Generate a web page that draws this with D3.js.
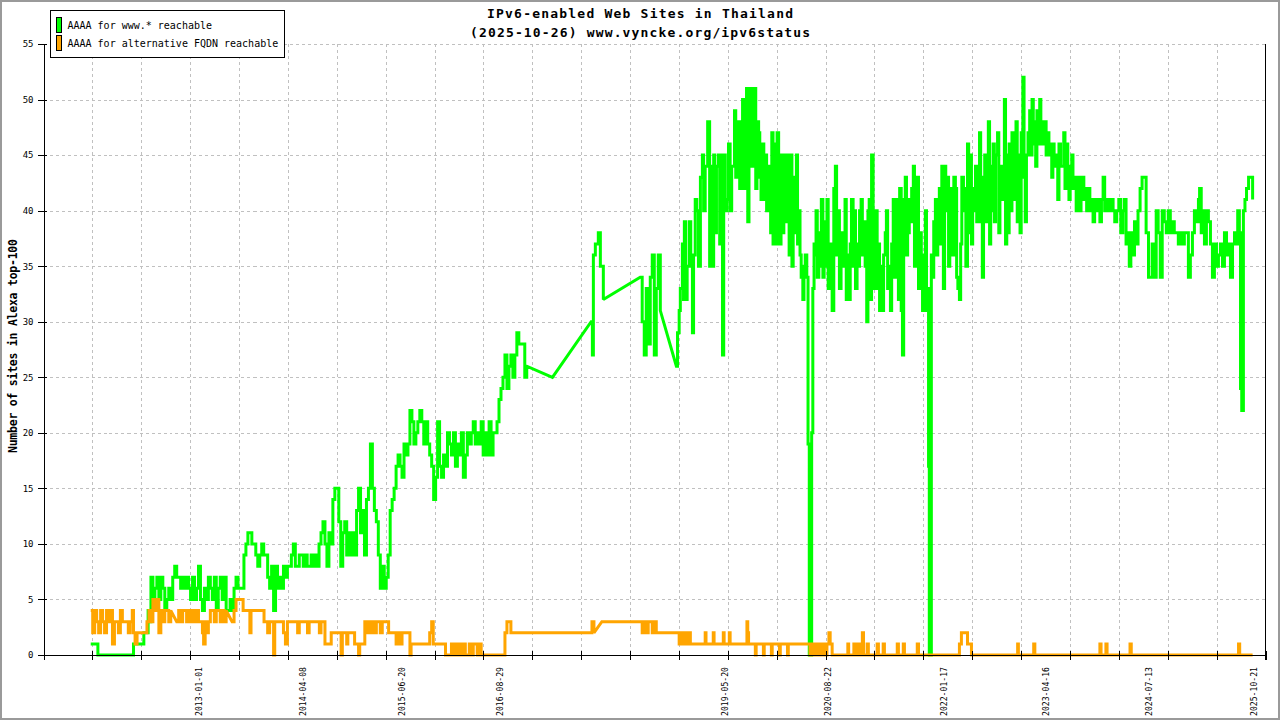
<!DOCTYPE html>
<html><head><meta charset="utf-8">
<script src="https://cdn.jsdelivr.net/npm/d3@7"></script>
<style>html,body{margin:0;padding:0;background:#fff;} svg{display:block;}</style>
</head><body>
<svg id="chart" width="1280" height="720"></svg>
<script>
const titleLines = ["IPv6-enabled Web Sites in Thailand", "(2025-10-26) www.vyncke.org/ipv6status"];
const yAxisTitle = "Number of sites in Alexa top-100";
const seriesNames = ["AAAA for www.* reachable", "AAAA for alternative FQDN reachable"];
const seriesColors = ["#00ff00", "#ffa500"];
const yTicks = [0,5,10,15,20,25,30,35,40,45,50,55];
const xLabelDates = ["2013-01-01","2014-04-08","2015-06-20","2016-08-29","2019-05-20","2020-08-22","2022-01-17","2023-04-16","2024-07-13","2025-10-21"];
const xDomainYears = [2011.1214, 2025.9515];
const xTickCount = 25;

// [decimal year, sites]
const wwwReachable = [
[2011.695,1],[2011.767,1],[2011.782,0],[2012.199,0],[2012.214,1],[2012.329,1],[2012.339,2],[2012.377,2],[2012.391,4],[2012.415,3],
[2012.425,7],[2012.449,5],[2012.473,6],[2012.497,7],[2012.521,5],[2012.545,7],[2012.569,6],[2012.593,4],[2012.617,5],[2012.641,6],
[2012.665,5],[2012.689,7],[2012.713,8],[2012.737,7],[2012.761,7],[2012.785,6],[2012.809,7],[2012.833,6],[2012.857,7],[2012.881,6],
[2012.905,5],[2012.929,7],[2012.953,5],[2012.977,6],[2013.001,8],[2013.025,5],[2013.049,4],[2013.073,6],[2013.097,5],[2013.121,7],
[2013.145,6],[2013.169,5],[2013.193,7],[2013.217,4],[2013.241,6],[2013.265,7],[2013.289,5],[2013.313,7],[2013.337,4],[2013.361,4],
[2013.385,5],[2013.409,4],[2013.433,6],[2013.457,7],[2013.481,6],[2013.505,6],[2013.529,6],[2013.553,9],[2013.577,10],[2013.601,11],
[2013.625,11],[2013.649,10],[2013.673,10],[2013.697,9],[2013.721,8],[2013.745,9],[2013.769,10],[2013.793,9],[2013.817,9],[2013.841,7],
[2013.865,6],[2013.889,8],[2013.913,4],[2013.937,8],[2013.961,6],[2013.985,7],[2014.009,6],[2014.033,8],[2014.057,7],[2014.081,8],
[2014.105,8],[2014.129,9],[2014.153,10],[2014.177,8],[2014.201,8],[2014.225,9],[2014.249,9],[2014.273,8],[2014.297,9],[2014.321,8],
[2014.345,8],[2014.369,9],[2014.393,8],[2014.417,9],[2014.441,8],[2014.465,10],[2014.489,11],[2014.513,12],[2014.537,10],[2014.561,8],
[2014.585,11],[2014.609,10],[2014.633,14],[2014.657,15],[2014.681,15],[2014.705,12],[2014.729,8],[2014.753,11],[2014.777,12],[2014.801,9],
[2014.825,11],[2014.849,9],[2014.873,11],[2014.897,9],[2014.921,13],[2014.945,15],[2014.969,11],[2014.993,13],[2015.017,9],[2015.041,14],
[2015.065,15],[2015.089,19],[2015.113,15],[2015.137,13],[2015.161,12],[2015.185,9],[2015.209,6],[2015.233,8],[2015.257,6],[2015.281,7],
[2015.305,9],[2015.329,13],[2015.353,14],[2015.377,15],[2015.401,17],[2015.425,18],[2015.449,17],[2015.473,16],[2015.497,19],[2015.521,18],
[2015.545,19],[2015.569,22],[2015.593,21],[2015.617,19],[2015.641,20],[2015.665,21],[2015.689,22],[2015.713,21],[2015.737,19],[2015.761,21],
[2015.785,19],[2015.809,18],[2015.833,17],[2015.857,14],[2015.881,16],[2015.905,21],[2015.929,17],[2015.953,16],[2015.977,18],[2016.001,17],
[2016.025,20],[2016.049,19],[2016.073,18],[2016.097,20],[2016.121,17],[2016.145,19],[2016.169,18],[2016.193,20],[2016.217,16],[2016.241,18],
[2016.265,20],[2016.289,19],[2016.313,20],[2016.337,21],[2016.361,19],[2016.385,20],[2016.409,19],[2016.433,21],[2016.457,18],[2016.481,20],
[2016.505,18],[2016.529,21],[2016.553,18],[2016.577,20],[2016.601,20],[2016.625,21],[2016.649,23],[2016.673,24],[2016.697,25],[2016.721,27],
[2016.745,24],[2016.769,26],[2016.793,27],[2016.817,25],[2016.841,27],[2016.865,29],[2016.889,28],[2016.913,28],[2016.937,28],[2016.961,25],
[2016.985,26],[2017.297,25],[2017.767,30],[2017.782,27],[2017.794,36],[2017.818,37],[2017.854,38],[2017.879,35],[2017.915,32],[2018.363,34],
[2018.387,30],[2018.412,27],[2018.436,33],[2018.460,28],[2018.485,34],[2018.509,36],[2018.534,27],[2018.558,33],[2018.582,36],[2018.607,31],
[2018.802,26],[2018.816,29],[2018.836,31],[2018.850,33],[2018.875,37],[2018.889,32],[2018.899,39],[2018.914,32],[2018.933,35],[2018.958,39],
[2018.977,35],[2018.997,29],[2019.011,36],[2019.031,41],[2019.050,40],[2019.070,35],[2019.094,43],[2019.118,45],[2019.133,40],[2019.152,44],
[2019.182,48],[2019.206,35],[2019.221,44],[2019.235,35],[2019.255,45],[2019.269,38],[2019.289,44],[2019.313,45],[2019.328,37],[2019.342,45],
[2019.362,27],[2019.377,45],[2019.396,40],[2019.416,41],[2019.435,46],[2019.455,40],[2019.474,44],[2019.508,49],[2019.523,43],[2019.537,48],
[2019.557,46],[2019.571,42],[2019.586,48],[2019.606,50],[2019.620,42],[2019.635,48],[2019.654,51],[2019.669,39],[2019.684,50],[2019.703,51],
[2019.718,44],[2019.732,48],[2019.752,51],[2019.766,42],[2019.781,48],[2019.801,47],[2019.815,43],[2019.830,41],[2019.849,46],[2019.864,41],
[2019.879,45],[2019.898,40],[2019.913,44],[2019.927,42],[2019.947,38],[2019.961,47],[2019.976,37],[2019.995,46],[2020.010,37],[2020.025,47],
[2020.044,44],[2020.059,37],[2020.073,45],[2020.093,38],[2020.107,45],[2020.122,39],[2020.142,40],[2020.156,45],[2020.171,36],[2020.190,45],
[2020.205,35],[2020.220,43],[2020.239,38],[2020.259,45],[2020.273,37],[2020.288,40],[2020.303,36],[2020.317,34],[2020.337,32],[2020.351,35],
[2020.366,36],[2020.385,34],[2020.400,19],[2020.415,0],[2020.429,0],[2020.444,20],[2020.458,33],[2020.473,37],[2020.483,36],[2020.497,40],
[2020.512,34],[2020.531,38],[2020.546,35],[2020.561,41],[2020.580,34],[2020.595,39],[2020.609,35],[2020.629,41],[2020.644,33],[2020.658,37],
[2020.678,36],[2020.692,31],[2020.712,42],[2020.731,44],[2020.746,36],[2020.761,40],[2020.780,33],[2020.800,38],[2020.814,35],[2020.834,36],
[2020.848,41],[2020.863,32],[2020.882,36],[2020.897,32],[2020.911,37],[2020.926,41],[2020.946,35],[2020.960,40],[2020.975,33],[2020.994,37],
[2021.009,35],[2021.024,40],[2021.043,41],[2021.058,36],[2021.072,39],[2021.092,35],[2021.111,30],[2021.126,40],[2021.141,41],[2021.155,32],
[2021.170,45],[2021.189,38],[2021.204,33],[2021.219,40],[2021.238,33],[2021.253,37],[2021.267,31],[2021.287,35],[2021.301,31],[2021.316,36],
[2021.336,38],[2021.350,40],[2021.365,33],[2021.384,35],[2021.399,31],[2021.414,37],[2021.433,41],[2021.448,34],[2021.462,39],[2021.482,41],
[2021.496,32],[2021.511,42],[2021.530,31],[2021.545,27],[2021.560,41],[2021.579,43],[2021.594,36],[2021.608,38],[2021.628,41],[2021.643,39],
[2021.657,42],[2021.677,44],[2021.691,35],[2021.706,36],[2021.725,43],[2021.740,33],[2021.755,38],[2021.774,36],[2021.789,31],[2021.803,34],
[2021.823,40],[2021.837,31],[2021.852,33],[2021.862,17],[2021.871,0],[2021.886,0],[2021.896,36],[2021.911,34],[2021.925,39],[2021.945,41],
[2021.959,36],[2021.974,40],[2021.993,42],[2022.008,37],[2022.023,44],[2022.042,33],[2022.057,44],[2022.071,40],[2022.091,43],[2022.105,35],
[2022.120,41],[2022.140,42],[2022.154,36],[2022.169,43],[2022.188,42],[2022.203,34],[2022.218,33],[2022.237,32],[2022.252,37],[2022.266,43],
[2022.286,40],[2022.300,42],[2022.315,35],[2022.335,46],[2022.349,38],[2022.364,45],[2022.383,37],[2022.398,42],[2022.412,40],[2022.432,44],
[2022.447,39],[2022.481,47],[2022.495,40],[2022.515,34],[2022.530,43],[2022.544,45],[2022.563,39],[2022.588,48],[2022.603,37],[2022.617,44],
[2022.632,40],[2022.646,46],[2022.661,39],[2022.676,45],[2022.700,47],[2022.715,38],[2022.729,44],[2022.749,41],[2022.768,44],[2022.783,50],
[2022.797,37],[2022.812,45],[2022.827,38],[2022.841,46],[2022.856,40],[2022.875,47],[2022.890,41],[2022.905,45],[2022.924,48],[2022.939,39],
[2022.953,45],[2022.973,38],[2022.987,47],[2023.007,52],[2023.022,43],[2023.036,39],[2023.051,45],[2023.070,47],[2023.090,49],[2023.105,45],
[2023.119,50],[2023.134,46],[2023.148,48],[2023.163,44],[2023.178,49],[2023.192,46],[2023.212,50],[2023.226,46],[2023.241,48],[2023.260,46],
[2023.275,48],[2023.290,45],[2023.309,47],[2023.324,45],[2023.338,46],[2023.358,43],[2023.372,46],[2023.387,44],[2023.407,45],[2023.431,41],
[2023.446,46],[2023.465,44],[2023.504,47],[2023.519,42],[2023.538,46],[2023.553,43],[2023.567,41],[2023.582,44],[2023.601,45],[2023.616,42],
[2023.636,43],[2023.655,40],[2023.670,41],[2023.684,43],[2023.699,40],[2023.714,42],[2023.733,43],[2023.748,41],[2023.762,42],[2023.782,40],
[2023.801,42],[2023.821,40],[2023.840,41],[2023.860,39],[2023.879,41],[2023.904,40],[2023.923,41],[2023.943,39],[2023.962,41],[2023.982,43],
[2024.001,40],[2024.025,41],[2024.050,40],[2024.074,41],[2024.103,40],[2024.123,39],[2024.147,40],[2024.172,41],[2024.196,38],[2024.221,40],
[2024.240,41],[2024.260,37],[2024.284,38],[2024.299,35],[2024.318,38],[2024.338,36],[2024.362,39],[2024.381,37],[2024.405,40],[2024.430,42],
[2024.454,43],[2024.479,43],[2024.503,38],[2024.532,34],[2024.552,34],[2024.576,37],[2024.601,34],[2024.625,40],[2024.649,38],[2024.674,34],
[2024.698,40],[2024.723,39],[2024.747,38],[2024.771,40],[2024.796,38],[2024.820,39],[2024.844,38],[2024.869,38],[2024.893,37],[2024.918,38],
[2024.942,37],[2024.966,38],[2024.991,38],[2025.015,34],[2025.039,36],[2025.064,38],[2025.088,40],[2025.112,39],[2025.137,41],[2025.151,42],
[2025.171,38],[2025.185,40],[2025.210,37],[2025.234,40],[2025.258,39],[2025.283,37],[2025.307,34],[2025.331,37],[2025.356,35],[2025.380,36],
[2025.404,37],[2025.429,35],[2025.453,38],[2025.478,36],[2025.502,37],[2025.526,34],[2025.551,37],[2025.575,38],[2025.599,37],[2025.614,40],
[2025.634,38],[2025.648,24],[2025.663,22],[2025.683,40],[2025.702,41],[2025.721,42],[2025.746,43],[2025.770,43],[2025.795,41]
];

const altReachable = [
[2011.695,4],[2011.719,2],[2011.743,4],[2011.767,3],[2011.791,2],[2011.815,4],[2011.839,3],[2011.863,2],[2011.887,4],[2011.911,3],
[2011.935,4],[2011.959,1],[2011.983,3],[2012.031,2],[2012.055,4],[2012.079,3],[2012.127,3],[2012.151,2],[2012.175,3],[2012.199,4],
[2012.214,2],[2012.233,1],[2012.257,2],[2012.353,2],[2012.377,3],[2012.401,4],[2012.425,3],[2012.449,5],[2012.473,4],[2012.497,5],
[2012.521,2],[2012.545,4],[2012.569,3],[2012.593,4],[2012.641,3],[2012.665,4],[2012.737,3],[2012.761,4],[2012.785,3],[2012.809,4],
[2012.857,3],[2012.881,4],[2012.905,3],[2012.929,4],[2012.953,3],[2012.977,4],[2013.001,3],[2013.049,2],[2013.063,1],[2013.082,3],
[2013.097,2],[2013.121,3],[2013.145,4],[2013.193,3],[2013.217,4],[2013.265,3],[2013.289,4],[2013.313,3],[2013.337,4],[2013.409,3],
[2013.433,4],[2013.457,5],[2013.529,5],[2013.543,4],[2013.615,4],[2013.625,2],[2013.639,4],[2013.783,4],[2013.797,3],[2013.841,2],
[2013.865,3],[2013.903,3],[2013.913,0],[2013.927,3],[2014.019,3],[2014.033,2],[2014.057,1],[2014.081,3],[2014.191,3],[2014.205,2],
[2014.225,3],[2014.311,3],[2014.325,2],[2014.345,3],[2014.455,3],[2014.469,2],[2014.489,3],[2014.523,3],[2014.537,1],[2014.599,1],
[2014.613,2],[2014.719,2],[2014.733,0],[2014.748,2],[2014.787,2],[2014.801,1],[2014.815,2],[2014.883,2],[2014.897,1],[2014.931,1],
[2014.945,0],[2014.959,1],[2015.007,1],[2015.021,3],[2015.041,2],[2015.065,3],[2015.089,2],[2015.113,3],[2015.137,2],[2015.161,3],
[2015.209,2],[2015.233,3],[2015.295,3],[2015.310,2],[2015.391,2],[2015.401,1],[2015.425,2],[2015.449,1],[2015.473,2],[2015.555,2],
[2015.569,0],[2015.583,1],[2015.785,1],[2015.809,2],[2015.833,3],[2015.852,1],[2015.987,1],[2016.001,0],[2016.063,0],[2016.073,1],
[2016.097,0],[2016.121,1],[2016.145,0],[2016.169,1],[2016.193,0],[2016.217,1],[2016.241,0],[2016.289,1],[2016.313,0],[2016.337,1],
[2016.361,1],[2016.385,0],[2016.409,1],[2016.433,0],[2016.697,0],[2016.721,2],[2016.745,3],[2016.779,3],[2016.793,2],[2017.753,2],
[2017.777,3],[2017.801,2],[2017.897,3],[2018.363,3],[2018.387,2],[2018.412,3],[2018.436,2],[2018.460,3],[2018.509,2],[2018.534,3],
[2018.558,2],[2018.826,2],[2018.836,1],[2018.850,2],[2018.875,1],[2018.899,2],[2018.923,1],[2018.948,2],[2018.972,1],[2019.143,1],
[2019.152,2],[2019.162,1],[2019.240,1],[2019.250,2],[2019.260,1],[2019.362,1],[2019.372,2],[2019.382,1],[2019.435,1],[2019.445,2],
[2019.455,1],[2019.650,1],[2019.659,3],[2019.669,2],[2019.679,1],[2019.752,1],[2019.761,0],[2019.771,1],[2019.849,1],[2019.859,0],
[2019.869,1],[2019.947,1],[2019.956,0],[2019.966,1],[2020.044,1],[2020.054,0],[2020.064,1],[2020.142,1],[2020.151,0],[2020.161,1],
[2020.410,1],[2020.424,0],[2020.444,1],[2020.463,0],[2020.483,1],[2020.507,0],[2020.531,1],[2020.556,0],[2020.580,1],[2020.604,0],
[2020.629,1],[2020.653,2],[2020.668,1],[2020.692,0],[2020.873,0],[2020.882,1],[2020.892,0],[2020.946,0],[2020.955,1],[2020.970,0],
[2020.994,1],[2021.009,0],[2021.043,1],[2021.058,2],[2021.072,0],[2021.116,1],[2021.131,0],[2021.228,0],[2021.238,1],[2021.253,0],
[2021.301,0],[2021.311,1],[2021.326,0],[2021.472,0],[2021.482,1],[2021.496,0],[2021.545,0],[2021.555,1],[2021.569,0],[2021.716,0],
[2021.725,1],[2021.740,0],[2022.213,0],[2022.237,1],[2022.261,2],[2022.310,2],[2022.335,1],[2022.383,0],[2022.934,0],[2022.944,1],
[2022.953,0],[2023.129,0],[2023.139,1],[2023.153,0],[2023.933,0],[2023.943,1],[2023.957,0],[2024.006,0],[2024.016,1],[2024.030,0],
[2024.298,0],[2024.308,1],[2024.323,0],[2025.609,0],[2025.624,1],[2025.638,0],[2025.795,0]
];

function decYearToDate(v) {
  const yr = Math.floor(v);
  const s = Date.UTC(yr, 0, 1), e = Date.UTC(yr + 1, 0, 1);
  return new Date(s + (v - yr) * (e - s));
}
const parseDate = d3.utcParse("%Y-%m-%d");

const svg = d3.select("#chart");
const W = 1280, H = 720;
const plot = {left: 43.5, right: 1265.5, top: 44, bottom: 655};
const mono = "'DejaVu Sans Mono','Liberation Mono',monospace";

svg.append("rect").attr("x", 0).attr("y", 0).attr("width", W).attr("height", H).attr("fill", "#fff");

const x = d3.scaleUtc().domain(xDomainYears.map(decYearToDate)).range([plot.left, plot.right]);
const y = d3.scaleLinear().domain([0, 55]).range([plot.bottom, plot.top]);

const [t0, t1] = x.domain().map(d => +d);
const xTickDates = d3.range(xTickCount + 1).map(i => new Date(t0 + i * (t1 - t0) / xTickCount));

// grid
const grid = svg.append("g").attr("stroke", "#c0c0c0").attr("stroke-width", 1)
  .attr("stroke-dasharray", "3,3").attr("shape-rendering", "crispEdges");
grid.selectAll("line.h").data(yTicks.filter(v => v > 0)).join("line")
  .attr("x1", plot.left).attr("x2", plot.right)
  .attr("y1", d => Math.round(y(d)) + 0.5).attr("y2", d => Math.round(y(d)) + 0.5);
grid.selectAll("line.v").data(xTickDates.slice(1, -1)).join("line")
  .attr("x1", d => Math.round(x(d)) + 0.5).attr("x2", d => Math.round(x(d)) + 0.5)
  .attr("y1", plot.top).attr("y2", plot.bottom);

// series lines: daily samples -> steps; across sampling gaps -> straight segments
const gapYears = 0.06;
function seriesPath(data) {
  const p = d3.path();
  data.forEach((d, i) => {
    const px = x(decYearToDate(d[0])), py = y(d[1]);
    if (i === 0) { p.moveTo(px, py); return; }
    const prev = data[i - 1];
    if (d[0] - prev[0] < gapYears) {
      p.lineTo(px, y(prev[1]));
      p.lineTo(px, py);
    } else {
      p.lineTo(px, py);
    }
  });
  return p.toString();
}
const seriesData = [wwwReachable, altReachable];
svg.append("g").selectAll("path").data(seriesData).join("path")
  .attr("d", d => seriesPath(d))
  .attr("fill", "none")
  .attr("stroke", (d, i) => seriesColors[i])
  .attr("stroke-width", 3)
  .attr("stroke-linejoin", "miter")
  .attr("stroke-miterlimit", 2);

// y axis
const yAxis = svg.append("g").attr("transform", `translate(${plot.left},0)`)
  .call(d3.axisLeft(y).tickValues(yTicks).tickSize(6).tickPadding(4).tickSizeOuter(0));
yAxis.select(".domain").attr("d", `M0.5,${plot.top}V${plot.bottom + 5}`).attr("stroke", "#000");
yAxis.selectAll(".tick line").attr("x1", 3).attr("stroke", "#000");
yAxis.selectAll(".tick text").attr("font-family", mono).attr("font-size", 9).attr("fill", "#000");
yAxis.attr("shape-rendering", "crispEdges");

// x axis
const xAxis = svg.append("g").attr("transform", `translate(0,${plot.bottom})`)
  .call(d3.axisBottom(x).tickValues(xTickDates).tickFormat("").tickSize(5).tickSizeOuter(0));
xAxis.select(".domain").attr("d", `M${plot.left - 4},0.5H${plot.right}`).attr("stroke", "#000");
xAxis.selectAll(".tick line").attr("y1", -4).attr("stroke", "#000");
xAxis.attr("shape-rendering", "crispEdges");

// x labels (rotated)
svg.append("g").selectAll("text").data(xLabelDates).join("text")
  .attr("transform", d => `translate(${x(parseDate(d)) + 3.5},667) rotate(-90)`)
  .attr("text-anchor", "end")
  .attr("font-family", mono).attr("font-size", 9)
  .attr("textLength", 49).attr("lengthAdjust", "spacingAndGlyphs")
  .attr("fill", "#000")
  .text(d => d);

// right frame line
svg.append("line").attr("x1", plot.right).attr("x2", plot.right)
  .attr("y1", plot.top).attr("y2", plot.bottom + 5)
  .attr("stroke", "#000").attr("shape-rendering", "crispEdges");

// titles
svg.append("text").attr("x", 640).attr("y", 18).attr("text-anchor", "middle")
  .attr("font-family", mono).attr("font-size", 13).attr("font-weight", "bold")
  .attr("textLength", 306).text(titleLines[0]);
svg.append("text").attr("x", 640).attr("y", 37).attr("text-anchor", "middle")
  .attr("font-family", mono).attr("font-size", 13).attr("font-weight", "bold")
  .attr("textLength", 340).text(titleLines[1]);

// y axis title
svg.append("text").attr("transform", "translate(16.5,346) rotate(-90)")
  .attr("text-anchor", "middle").attr("font-family", mono).attr("font-size", 11.5)
  .attr("font-weight", "bold").attr("textLength", 214).text(yAxisTitle);

// legend
const legend = svg.append("g");
legend.append("rect").attr("x", 50.5).attr("y", 10.5).attr("width", 234).attr("height", 47)
  .attr("fill", "#fff").attr("stroke", "#000").attr("shape-rendering", "crispEdges");
const items = legend.selectAll("g.item").data(seriesNames).join("g")
  .attr("transform", (d, i) => `translate(0,${i * 17.5})`);
items.append("rect").attr("x", 56.5).attr("y", 17.5).attr("width", 5).attr("height", 15)
  .attr("fill", (d, i) => seriesColors[i]).attr("stroke", "#000").attr("shape-rendering", "crispEdges");
items.append("text").attr("x", 67.5).attr("y", 29.3)
  .attr("font-family", mono).attr("font-size", 10).attr("fill", "#000").text(d => d);

// outer frame
svg.append("rect").attr("x", 1).attr("y", 1).attr("width", W - 2).attr("height", H - 2)
  .attr("fill", "none").attr("stroke", "#9a9a9a").attr("stroke-width", 2);
</script>
</body></html>
